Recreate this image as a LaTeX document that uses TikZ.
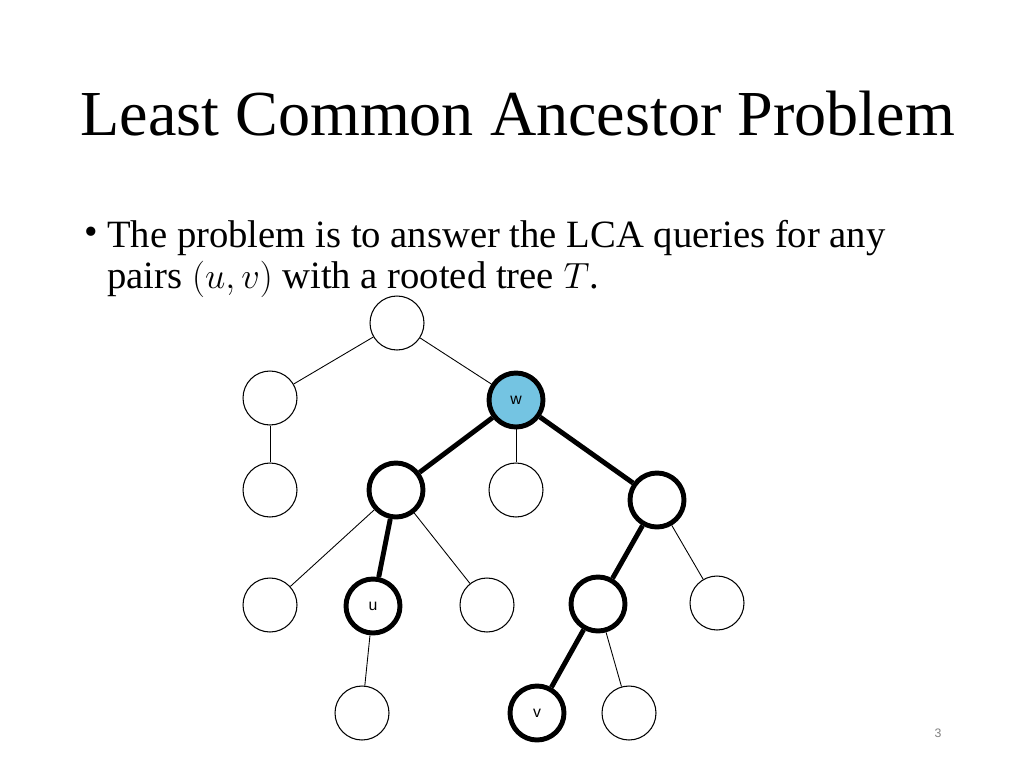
\documentclass[tikz,border=0pt]{standalone}
\usepackage{fontspec}
\setmainfont{Liberation Serif}
\setsansfont{Liberation Sans}
\usetikzlibrary{positioning}
\definecolor{lcablue}{HTML}{74C4E2}

\begin{document}
\begin{tikzpicture}[
    x=0.02cm, y=-0.02cm,
    vertex/.style={circle, draw=black, fill=white, line width=0.6pt, minimum size=1.08cm, inner sep=0pt, font=\sffamily\small},
    marked/.style={vertex, line width=2.8pt},
    edge/.style={line width=0.5pt},
    path/.style={line width=2.8pt}
]
\useasboundingbox (0,0) rectangle (1024,768);

\node[anchor=base west, inner sep=0pt, font=\fontsize{36.5}{40}\selectfont] (title) at (80,135) {Least Common Ancestor Problem};
\node[anchor=base west, inner sep=0pt, font=\fontsize{22}{23.3}\selectfont] (bul) at (84,244) {\textbullet};
\node[anchor=north west, font=\fontsize{22}{23.3}\selectfont, align=left, inner sep=0pt] (text) at (107,220)
    {The problem is to answer the LCA queries for any\\pairs $(u,v)$ with a rooted tree $T$.};

% tree nodes
\node[vertex] (root) at (397,323) {};
\node[vertex] (a) at (270,398) {};
\node[marked, fill=lcablue] (w) at (516,400) {w};
\node[vertex] (a1) at (270,490) {};
\node[marked] (b) at (396,490) {};
\node[vertex] (c) at (516,490) {};
\node[marked] (d) at (657,500) {};
\node[vertex] (e) at (270,605) {};
\node[marked] (u) at (373,606) {u};
\node[vertex] (f) at (487,605) {};
\node[marked] (g) at (598,604) {};
\node[vertex] (h) at (717,603) {};
\node[vertex] (i) at (362,713) {};
\node[marked] (v) at (537,713) {v};
\node[vertex] (j) at (629,713) {};

% edges
\draw[edge] (root) -- (a);
\draw[edge] (root) -- (w);
\draw[edge] (a) -- (a1);
\draw[path] (w) -- (b);
\draw[edge] (w) -- (c);
\draw[path] (w) -- (d);
\draw[edge] (b) -- (e);
\draw[path] (b) -- (u);
\draw[edge] (b) -- (f);
\draw[path] (d) -- (g);
\draw[edge] (d) -- (h);
\draw[edge] (u) -- (i);
\draw[path] (g) -- (v);
\draw[edge] (g) -- (j);

\node[font=\sffamily\scriptsize, text=gray] (num) at (938,733) {3};
\end{tikzpicture}
\end{document}
